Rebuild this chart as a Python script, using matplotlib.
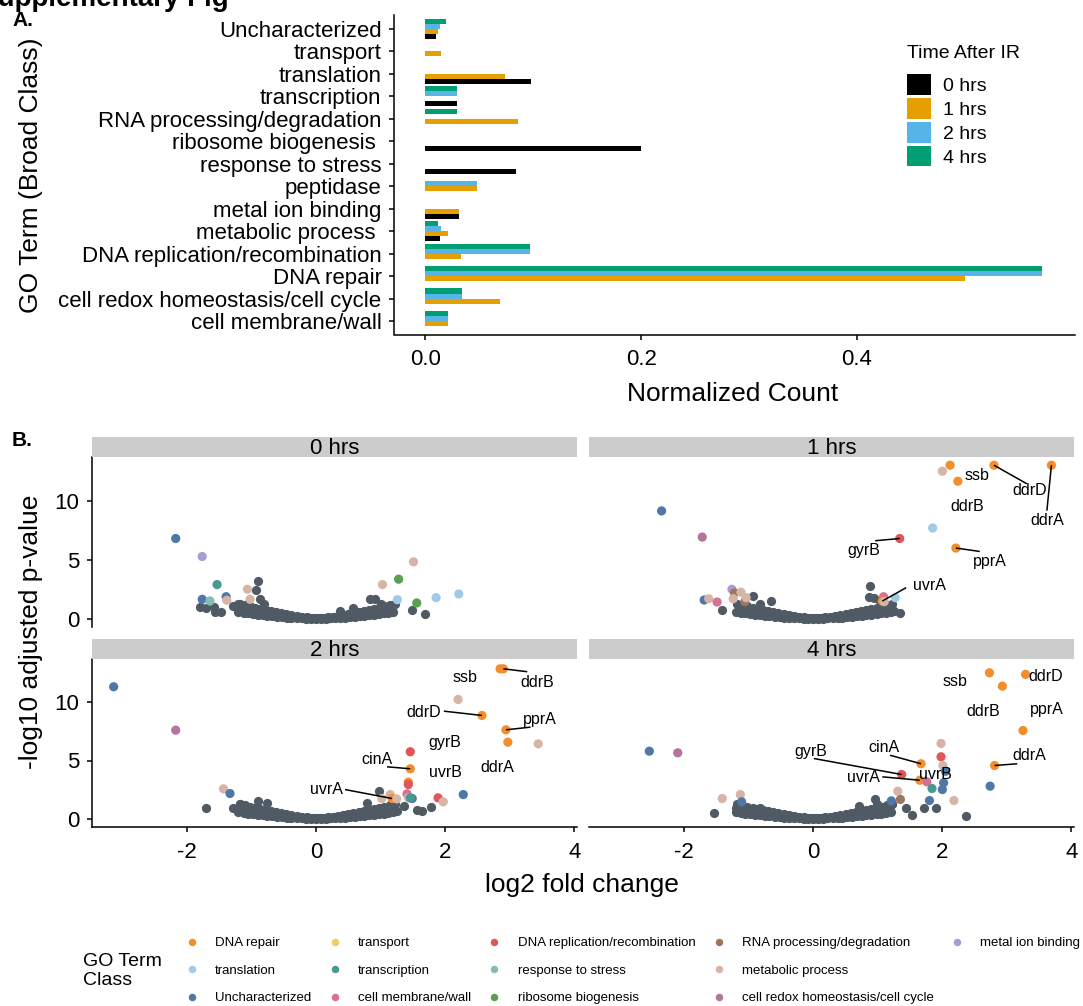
import matplotlib
matplotlib.use("Agg")
import matplotlib.pyplot as plt
from matplotlib.lines import Line2D
from matplotlib.patches import Patch

plt.rcParams['font.family'] = ['Liberation Sans', 'DejaVu Sans']
plt.rcParams['axes.unicode_minus'] = False

# ---------------- Panel A data ----------------
go_terms = ["Uncharacterized", "transport", "translation", "transcription",
            "RNA processing/degradation", "ribosome biogenesis ", "response to stress",
            "peptidase", "metal ion binding", "metabolic process ",
            "DNA replication/recombination", "DNA repair",
            "cell redox homeostasis/cell cycle", "cell membrane/wall"]
time_labels = ["0 hrs", "1 hrs", "2 hrs", "4 hrs"]
count_0h = [0.0096, 0.0, 0.098, 0.029, 0.0, 0.200, 0.084, 0.0, 0.031, 0.014, 0.0, 0.0, 0.0, 0.0]
count_1h = [0.012, 0.015, 0.074, 0.0, 0.086, 0.0, 0.0, 0.048, 0.031, 0.021, 0.033, 0.500, 0.069, 0.021]
count_2h = [0.014, 0.0, 0.0, 0.029, 0.0, 0.0, 0.0, 0.048, 0.0, 0.015, 0.097, 0.571, 0.034, 0.021]
count_4h = [0.019, 0.0, 0.0, 0.029, 0.029, 0.0, 0.0, 0.0, 0.0, 0.012, 0.097, 0.571, 0.034, 0.021]
time_colors = ["#000000", "#E69F00", "#56B4E9", "#009E73"]
bar_ticks = [0.0, 0.2, 0.4]

# ---------------- Panel B data ----------------
class_codes = ["rep", "tsl", "unc", "trp", "tsc", "mem", "rec", "str", "rib", "rna", "mtb", "rdx", "met"]
class_names = ["DNA repair", "translation", "Uncharacterized", "transport", "transcription",
               "cell membrane/wall", "DNA replication/recombination", "response to stress",
               "ribosome biogenesis", "RNA processing/degradation", "metabolic process",
               "cell redox homeostasis/cell cycle", "metal ion binding"]
class_colors = ["#F28E2B", "#A0CBE8", "#4E79A7", "#F1CE63", "#499894",
                "#D37295", "#E15759", "#86BCB6", "#59A14F", "#9D7660",
                "#D7B5A6", "#B5739D", "#A69ECF"]
gray_color = "#4F5A65"

# shared non-significant cloud (log2FC, -log10 padj)
cloud_lo_x = [-1.20, -1.12, -1.05, -0.98, -0.90, -0.82, -0.75, -0.68, -0.60, -0.52, -0.45, -0.38,
              -0.30, -0.22, -0.15, -0.08, 0.00, 0.08, 0.15, 0.22, 0.30, 0.38, 0.45, 0.52, 0.60,
              0.68, 0.75, 0.82, 0.90, 0.98, 1.05, 1.12, 1.20]
cloud_lo_y = [0.55, 0.50, 0.45, 0.40, 0.35, 0.30, 0.26, 0.22, 0.18, 0.14, 0.10, 0.08,
              0.05, 0.03, 0.02, 0.01, 0.00, 0.01, 0.02, 0.03, 0.05, 0.08, 0.10, 0.14, 0.18,
              0.22, 0.26, 0.30, 0.35, 0.40, 0.45, 0.50, 0.55]
cloud_mid_x = [-1.14, -1.06, -0.98, -0.90, -0.82, -0.74, -0.66, -0.58, -0.50, -0.42, -0.34, -0.26,
               -0.18, -0.10, -0.02, 0.06, 0.14, 0.22, 0.30, 0.38, 0.46, 0.54, 0.62, 0.70, 0.78,
               0.86, 0.94, 1.02, 1.10, 1.18]
cloud_mid_y = [0.85, 0.78, 0.70, 0.62, 0.55, 0.48, 0.40, 0.34, 0.28, 0.22, 0.17, 0.12,
               0.08, 0.05, 0.04, 0.04, 0.06, 0.09, 0.13, 0.18, 0.24, 0.30, 0.37, 0.44, 0.52,
               0.60, 0.68, 0.76, 0.85, 0.95]
cloud_hi_x = [-1.18, -1.10, -1.02, -0.94, -0.86, -0.78, -0.70, -0.62, -0.54, -0.46, -0.38, -0.30,
              -0.22, -0.14, -0.06, 0.02, 0.10, 0.18, 0.26, 0.34, 0.42, 0.50, 0.58, 0.66, 0.74,
              0.82, 0.90, 0.98, 1.06, 1.14, 1.22]
cloud_hi_y = [1.25, 1.15, 1.05, 0.95, 0.85, 0.75, 0.66, 0.57, 0.49, 0.41, 0.33, 0.26,
              0.19, 0.13, 0.09, 0.08, 0.10, 0.14, 0.19, 0.25, 0.32, 0.40, 0.48, 0.56, 0.65,
              0.74, 0.84, 0.95, 1.05, 1.15, 1.28]

# 0 hrs
h0_gray_x = [-1.79, -1.70, -1.58, -1.56, -1.47, -1.28, -1.21, -0.86, -0.81, -0.89, -0.92,
             0.84, 0.92, 1.00, 1.15, 1.18, 1.48, 1.69, 0.58, 0.38]
h0_gray_y = [1.02, 0.89, 1.02, 0.60, 0.57, 1.08, 1.22, 1.65, 1.22, 3.24, 2.47,
             1.65, 1.65, 1.22, 0.66, 0.54, 0.71, 0.43, 0.94, 0.66]
h0_x = [-2.17, -1.76, -1.53, -1.76, -1.64, -1.39, -1.38, -1.06, -1.02, 1.03, 1.51, 1.28, 1.26, 1.56, 1.86, 2.21]
h0_y = [6.81, 5.28, 2.90, 1.65, 1.51, 1.87, 1.57, 2.50, 1.65, 2.90, 4.83, 3.36, 1.62, 1.34, 1.79, 2.10]
h0_cls = ["unc", "met", "tsc", "unc", "str", "unc", "mtb", "mtb", "mtb", "mtb", "mtb", "rib", "tsl", "rib", "tsl", "tsl"]
h0_lab = []
h0_lab_x = []
h0_lab_y = []
h0_seg = []

# 1 hrs
h1_gray_x = [-1.41, -0.94, -0.66, -1.02, -0.82, 0.88, 0.86, 0.94, 1.04, 1.20, 1.34, 1.25]
h1_gray_y = [0.71, 1.93, 1.51, 0.94, 1.22, 2.79, 1.87, 1.79, 1.51, 0.94, 0.51, 0.66]
h1_x = [-2.35, -1.72, 1.85, 1.34, 2.21, 2.12, 2.00, 2.24, 2.80, 3.69, -1.69, -1.62, -1.49,
        -1.26, -1.22, -1.12, -1.24, -1.06, -1.04, 1.09, 1.07, 1.10, 1.27]
h1_y = [9.15, 6.93, 7.70, 6.81, 6.00, 13.03, 12.52, 11.67, 13.03, 13.03, 1.59, 1.70, 1.42,
        2.50, 2.19, 2.25, 1.70, 1.45, 1.79, 1.87, 1.50, 1.45, 1.79]
h1_cls = ["unc", "rdx", "tsl", "rec", "rep", "rep", "mtb", "rep", "rep", "rep", "unc", "mtb", "mem",
          "met", "rna", "mtb", "mtb", "rna", "mtb", "mem", "rep", "mtb", "tsl"]
h1_lab = ["ssb", "ddrD", "ddrB", "ddrA", "gyrB", "pprA", "uvrA"]
h1_lab_x = [2.54, 3.36, 2.38, 3.62, 0.78, 2.74, 1.80]
h1_lab_y = [12.15, 10.88, 9.51, 8.32, 5.77, 4.86, 2.79]
h1_seg = [(2.80, 13.03, 3.31, 11.45), (3.69, 13.03, 3.62, 9.17), (1.34, 6.81, 0.96, 6.62),
          (2.21, 6.00, 2.58, 5.71), (1.07, 1.50, 1.44, 2.64)]

# 2 hrs
h2_gray_x = [-1.70, -1.28, -1.17, -0.89, -0.76, 0.97, 0.79, 1.15, 1.36, 1.56, 1.64, 1.78, 1.25]
h2_gray_y = [0.94, 0.94, 1.23, 1.51, 1.37, 2.37, 1.37, 1.08, 1.08, 0.80, 0.65, 0.99, 0.65]
h2_x = [-3.13, -2.17, -1.43, -1.33, 1.15, 1.02, 1.18, 1.25, 1.46, 1.46, 1.43, 1.43, 1.41, 1.43,
        1.49, 1.46, 1.89, 1.97, 2.28, 2.20, 2.57, 2.85, 2.90, 2.94, 2.97, 3.44]
h2_y = [11.32, 7.60, 2.57, 2.17, 2.08, 1.74, 1.74, 1.71, 5.75, 4.29, 3.14, 2.94, 2.14, 1.80,
        1.74, 1.80, 1.80, 1.46, 2.08, 10.23, 8.86, 12.86, 12.86, 7.63, 6.57, 6.43]
h2_cls = ["unc", "rdx", "mtb", "unc", "mtb", "mtb", "rep", "mtb", "rec", "rep", "rep", "rec", "mem", "mtb",
          "unc", "tsc", "rec", "mtb", "unc", "mtb", "rep", "rep", "rep", "rep", "rep", "mtb"]
h2_lab = ["ssb", "ddrB", "ddrD", "pprA", "gyrB", "ddrA", "cinA", "uvrB", "uvrA"]
h2_lab_x = [2.31, 3.42, 1.67, 3.47, 2.00, 2.80, 0.94, 2.00, 0.16]
h2_lab_y = [12.09, 11.66, 9.09, 8.52, 6.52, 4.37, 5.09, 3.94, 2.51]
h2_seg = [(2.90, 12.86, 3.27, 12.61), (2.57, 8.86, 1.98, 9.23), (2.94, 7.63, 3.32, 7.86),
          (1.46, 4.29, 1.10, 4.46), (1.18, 1.74, 0.45, 2.51)]

# 4 hrs
h4_gray_x = [-1.54, -1.20, -0.82, 0.71, 0.96, 0.99, 1.22, 1.43, 1.53, 1.71, 1.90, 2.36]
h4_gray_y = [0.51, 0.94, 0.94, 1.08, 1.66, 1.23, 1.23, 0.94, 0.37, 0.94, 0.94, 0.28]
h4_x = [-2.54, -2.10, -1.41, -1.13, -1.11, 1.31, 1.35, 1.21, 1.37, 1.67, 1.65, 1.76, 1.84, 1.80,
        1.98, 1.98, 2.01, 2.05, 2.02, 2.00, 2.18, 2.74, 2.73, 2.93, 3.29, 3.25, 2.81]
h4_y = [5.80, 5.66, 1.74, 2.08, 1.46, 2.37, 1.66, 1.54, 3.80, 4.72, 3.31, 3.17, 2.60, 1.57,
        6.46, 5.32, 4.57, 4.08, 3.09, 2.51, 1.57, 2.80, 12.52, 11.37, 12.38, 7.57, 4.57]
h4_cls = ["unc", "rdx", "mtb", "mtb", "unc", "mtb", "rna", "unc", "rec", "rep", "rep", "mem", "tsc", "unc",
          "mtb", "rec", "mtb", "unc", "unc", "unc", "mtb", "unc", "rep", "rep", "rep", "rep", "rep"]
h4_lab = ["ssb", "ddrD", "ddrB", "pprA", "ddrA", "cinA", "gyrB", "uvrA", "uvrB"]
h4_lab_x = [2.20, 3.60, 2.64, 3.62, 3.34, 1.09, -0.04, 0.78, 1.89]
h4_lab_y = [11.80, 12.23, 9.23, 9.37, 5.45, 6.09, 5.80, 3.52, 3.80]
h4_seg = [(2.81, 4.57, 3.16, 4.72), (1.67, 4.72, 1.19, 5.45), (1.37, 3.80, 0.01, 5.17),
          (1.65, 3.31, 1.07, 3.60)]

volcano_xticks = [-2, 0, 2, 4]
volcano_yticks = [0, 5, 10]

# ---------------- Layout helpers ----------------
W, H = 1083, 1006
fig = plt.figure(figsize=(W / 100, H / 100), dpi=100)


def rect(l, t, r, b):
    return [l / W, 1 - b / H, (r - l) / W, (b - t) / H]


def fx(x):
    return x / W


def fy(y):
    return 1 - y / H


# ---------------- Panel A ----------------
axA = fig.add_axes(rect(394.3, 15.5, 1075, 334.5))
n = len(go_terms)
ypos = [n - i for i in range(n)]
offsets = [-0.3375, -0.1125, 0.1125, 0.3375]
for vals, col, off, lab in zip([count_0h, count_1h, count_2h, count_4h], time_colors, offsets, time_labels):
    axA.barh([y + off for y in ypos], vals, height=0.225, color=col, linewidth=0, label=lab)
axA.set_xlim(-0.0287, 0.602)
axA.set_ylim(0.4, n + 0.6)
axA.set_yticks(ypos)
axA.set_yticklabels(go_terms)
axA.set_xticks(bar_ticks)
axA.set_xticklabels([f"{t:.1f}" for t in bar_ticks])
for s in ["top", "right"]:
    axA.spines[s].set_visible(False)
for s in ["left", "bottom"]:
    axA.spines[s].set_linewidth(1.1)
axA.tick_params(axis="y", length=3.6, width=1.1, pad=5.6, labelsize=16)
axA.tick_params(axis="x", length=3.6, width=1.1, pad=6.8, labelsize=16)

fig.text(fx(733), fy(394), "Normalized Count", ha="center", va="center", fontsize=19)
fig.text(fx(31), fy(175), "GO Term (Broad Class)", ha="center", va="center", rotation=90, fontsize=19)

handles_t = [Patch(facecolor=c, edgecolor="none") for c in time_colors]
fig.text(fx(907.3), fy(54), "Time After IR", ha="left", va="center", fontsize=14)
fs_t = 14 * 100 / 72
fig.legend(handles_t, time_labels, loc="upper left", bbox_to_anchor=(fx(907.3), fy(74.3)),
           frameon=False, fontsize=14, handlelength=24 / fs_t, handleheight=24 / fs_t,
           handletextpad=11.6 / fs_t, labelspacing=3.2 / fs_t, borderpad=0, borderaxespad=0)

# ---------------- Panel B ----------------
color_of = dict(zip(class_codes, class_colors))
panels = [
    ("0 hrs", (91.7, 457.3, 577, 627), (437.3, 457.3), True, False,
     h0_gray_x, h0_gray_y, h0_x, h0_y, h0_cls, h0_lab, h0_lab_x, h0_lab_y, h0_seg),
    ("1 hrs", (589.3, 457.3, 1074, 627), (437.3, 457.3), False, False,
     h1_gray_x, h1_gray_y, h1_x, h1_y, h1_cls, h1_lab, h1_lab_x, h1_lab_y, h1_seg),
    ("2 hrs", (91.7, 659, 577, 827), (639, 659), True, True,
     h2_gray_x, h2_gray_y, h2_x, h2_y, h2_cls, h2_lab, h2_lab_x, h2_lab_y, h2_seg),
    ("4 hrs", (589.3, 659, 1074, 827), (639, 659), False, True,
     h4_gray_x, h4_gray_y, h4_x, h4_y, h4_cls, h4_lab, h4_lab_x, h4_lab_y, h4_seg),
]

cloud_x = cloud_lo_x + cloud_mid_x + cloud_hi_x
cloud_y = cloud_lo_y + cloud_mid_y + cloud_hi_y

for (name, (l, t, r, b), (st, sb), left_col, bottom_row,
     gx, gy, px, py, pcls, labs, lx, ly, segs) in panels:
    ax = fig.add_axes(rect(l, t, r, b))
    ax.scatter(cloud_x + gx, cloud_y + gy, s=44,
               color=gray_color, linewidths=0, zorder=2)
    ax.scatter(px, py, s=44, c=[color_of[c] for c in pcls], linewidths=0, zorder=3)
    for (x0, y0, x1, y1) in segs:
        ax.plot([x0, x1], [y0, y1], color="black", lw=1.1, zorder=4, solid_capstyle="butt")
    for tx, tx_x, tx_y in zip(labs, lx, ly):
        ax.text(tx_x, tx_y, tx, ha="center", va="center", fontsize=11.5, zorder=5)
    ax.set_xlim(-3.47, 4.04)
    ax.set_ylim(-0.7, 13.7)
    for s in ["top", "right", "left", "bottom"]:
        ax.spines[s].set_visible(False)
    if left_col:
        ax.spines["left"].set_visible(True)
        ax.spines["left"].set_linewidth(1.1)
        ax.set_yticks(volcano_yticks)
        ax.tick_params(axis="y", length=3.6, width=1.1, pad=5.5, labelsize=16)
    else:
        ax.set_yticks([])
    if bottom_row:
        ax.spines["bottom"].set_visible(True)
        ax.spines["bottom"].set_linewidth(1.1)
        ax.set_xticks(volcano_xticks)
        ax.tick_params(axis="x", length=3.6, width=1.1, pad=7, labelsize=16)
    else:
        ax.set_xticks([])
    sax = fig.add_axes(rect(l, st, r, sb))
    sax.set_facecolor("#cccccc")
    sax.set_xticks([])
    sax.set_yticks([])
    for s in sax.spines.values():
        s.set_visible(False)
    sax.text(0.5, 0.45, name, ha="center", va="center", fontsize=16, transform=sax.transAxes)

fig.text(fx(582), fy(885), "log2 fold change", ha="center", va="center", fontsize=19)
fig.text(fx(31), fy(632), "-log10 adjusted p-value", ha="center", va="center", rotation=90, fontsize=19)

# GO class legend (column-major, 3 rows x 5 columns)
handles_c = [Line2D([], [], linestyle="", marker="o", markersize=5.4, markeredgewidth=0,
                    color=c) for c in class_colors]
labels_c = list(class_names)
handles_c += [Line2D([], [], linestyle="", marker=""), Line2D([], [], linestyle="", marker="")]
labels_c += ["", ""]
fs_c = 9.5 * 100 / 72
fig.legend(handles_c, labels_c, loc="upper left", bbox_to_anchor=(fx(181.7), fy(937)),
           ncol=5, frameon=False, fontsize=9.5, handlelength=20 / fs_c,
           handletextpad=13.3 / fs_c, columnspacing=13.3 / fs_c, labelspacing=1.16,
           borderpad=0, borderaxespad=0)
fig.text(fx(83.3), fy(971), "GO Term\nClass", ha="left", va="center", fontsize=14, linespacing=1.1)

# panel tags and (clipped) figure title
fig.text(fx(12), fy(21), "A.", ha="left", va="center", fontsize=15, fontweight="bold")
fig.text(fx(12), fy(440), "B.", ha="left", va="center", fontsize=15, fontweight="bold")
fig.text(fx(-21), fy(6), "Supplementary Fig", ha="left", va="baseline", fontsize=20, fontweight="bold")

fig.savefig("out.png", dpi=100)
